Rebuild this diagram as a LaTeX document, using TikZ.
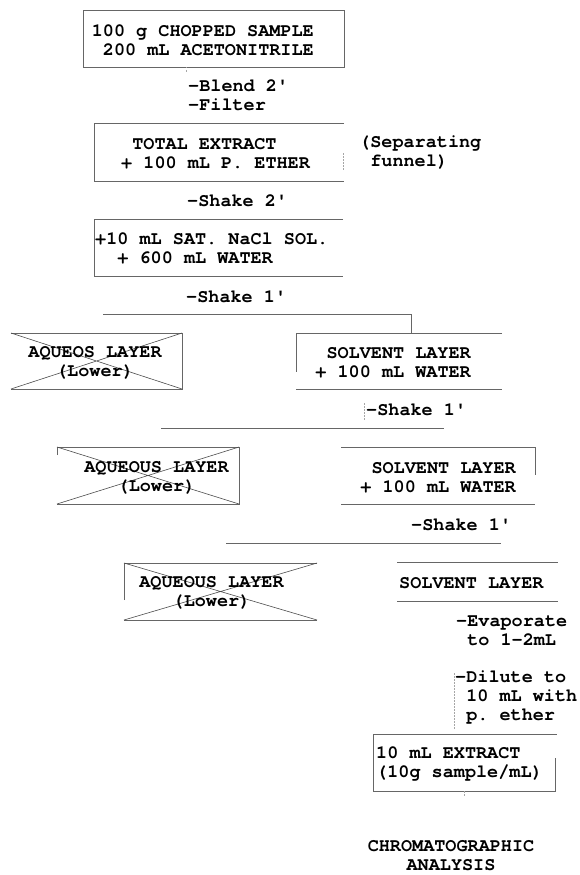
\documentclass[tikz,border=0pt]{standalone}
\usepackage{fontspec}
\setmonofont{texgyrecursor-bold.otf}
\tikzset{
  lbl/.style={inner sep=0pt, anchor=west, align=left},
  boxline/.style={black!60, line width=0.7pt},
  faint/.style={black!35, line width=0.6pt, dash pattern=on 1.5pt off 1.5pt},
  crossline/.style={black!70, line width=0.6pt},
}
\newcommand{\ind}[1]{\hspace*{#1\dimexpr 11.1pt\relax}}
\begin{document}
\begin{tikzpicture}[x=1pt, y=-1pt, font=\ttfamily\fontsize{18.5}{19}\selectfont]
    \useasboundingbox (0,0) rectangle (580,875);
    %sample box
        \draw[boxline] (83,10) rectangle (344,67);
        \node[lbl, anchor=east, align=right] (sample) at (314,40) {100 g CHOPPED SAMPLE\\200 mL ACETONITRILE};
        \draw[faint] (186,67)--(186,73);
        \node[lbl] (blend) at (188,95.5) {-Blend 2'\\-Filter};
    %total extract
        \draw[boxline] (344,123)--(94,123)--(94,181)--(344,181);
        \draw[faint] (343,153)--(343,170);
        \node[lbl] (total) at (121,153.5) {\ind{1}TOTAL EXTRACT\\+ 100 mL P. ETHER};
        \node[lbl] (funnel) at (359,152.5) {(Separating\\\ind{1}funnel)};
        \node[lbl] (shaketwo) at (187,201) {-Shake 2'};
    %salt and water
        \draw[boxline] (343,219)--(94,219)--(94,276)--(343,276);
        \node[lbl] (nacl) at (95,248.5) {+10 mL SAT. NaCl SOL.\\\ind{2}+ 600 mL WATER};
        \node[lbl] (shakeone) at (186,297) {-Shake 1'};
        \draw[boxline] (103,314)--(411,314)--(411,333);
    %first separation
        \draw[boxline] (11,333)--(182,333)--(182,389)--(11,389);
        \draw[crossline] (11,333)--(182,389) (11,389)--(182,333);
        \node[inner sep=0pt, align=center] (aqueos) at (95,362.5) {AQUEOS LAYER\\(Lower)};
        \draw[boxline] (502,333)--(296,333)--(296,372);
        \draw[boxline] (296,389)--(502,389);
        \node[lbl, anchor=east, align=right] (solventa) at (471,362.5) {SOLVENT LAYER\\+ 100 mL WATER};
        \draw[faint] (364,403)--(364,420);
        \node[lbl] (shakeonea) at (366,410) {-Shake 1'};
        \draw[boxline] (161,428)--(444,428);
    %second separation
        \draw[boxline] (57,455)--(57,447)--(239,447)--(239,504)--(57,504);
        \draw[crossline] (57,447)--(239,504) (57,504)--(239,447);
        \node[inner sep=0pt, align=center] (aqueousa) at (156.5,477.5) {AQUEOUS LAYER\\(Lower)};
        \draw[boxline] (341,447)--(535,447)--(535,475);
        \draw[boxline] (341,504)--(535,504);
        \node[lbl, anchor=east, align=right] (solventb) at (516,477.5) {SOLVENT LAYER\\+ 100 mL WATER};
        \node[lbl] (shakeoneb) at (411,525) {-Shake 1'};
        \draw[boxline] (226,543)--(501,543);
    %third separation
        \draw[boxline] (124,600)--(124,563)--(317,563);
        \draw[boxline] (124,620)--(317,620);
        \draw[crossline] (124,563)--(317,620) (124,620)--(317,563);
        \node[inner sep=0pt, align=center] (aqueousb) at (211.5,593) {AQUEOUS LAYER\\(Lower)};
        \draw[boxline] (397,562)--(558,562) (397,601)--(558,601);
        \node[lbl] (solventc) at (399,583) {SOLVENT LAYER};
    %concentration
        \node[lbl] (evap) at (456,631) {-Evaporate\\\ind{1}to 1-2mL};
        \draw[faint] (454,673)--(454,730);
        \node[lbl] (dilute) at (455,697) {-Dilute to\\\ind{1}10 mL with\\\ind{1}p. ether};
    %final extract
        \draw[boxline] (373,791)--(373,734)--(557,734);
        \draw[boxline] (373,791)--(555,791)--(555,758);
        \node[lbl] (extract) at (376,763.5) {10 mL EXTRACT\\(10g sample/mL)};
        \draw[faint] (464,791)--(464,797);
        \node[inner sep=0pt, align=center] (chrom) at (451,856) {CHROMATOGRAPHIC\\ANALYSIS};
\end{tikzpicture}
\end{document}
